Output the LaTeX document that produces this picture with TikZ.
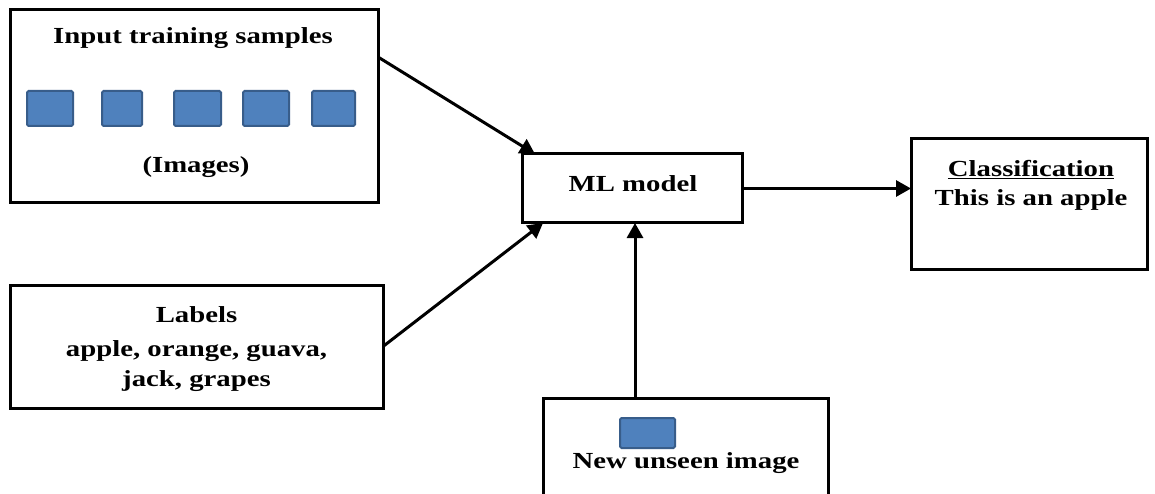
\documentclass[tikz,border=0pt]{standalone}
\usepackage{fontspec}
\setmainfont{Liberation Serif}[FakeStretch=1.25]
\usetikzlibrary{arrows.meta}
\definecolor{imgfill}{HTML}{4F81BD}
\definecolor{imgedge}{HTML}{385D8A}
\tikzset{
  box/.style={draw=black, line width=3pt, fill=white, inner sep=0pt, outer sep=0pt},
  txt/.style={font=\fontsize{23}{27}\selectfont\bfseries, inner sep=0pt, anchor=base},
  thumb/.style={draw=imgedge, line width=2pt, fill=imgfill, rounded corners=1.5pt},
  arr/.style={line width=3pt, -{Triangle[length=15pt,width=16pt]}},
}
\begin{document}
\begin{tikzpicture}[x=1pt,y=-1pt]
\useasboundingbox (0,0) rectangle (1155,494);
\clip (0,0) rectangle (1155,494);
\fill[white] (0,0) rectangle (1155,494);

% boxes
\node[box, minimum width=368pt, minimum height=193pt] (train) at (194,106.5) {};
\node[box, minimum width=220pt, minimum height=69pt] (ml) at (632,188.5) {};
\node[box, minimum width=236pt, minimum height=130pt] (cls) at (1029,204) {};
\node[box, minimum width=373pt, minimum height=123pt] (labels) at (196.5,346.5) {};
\node[box, minimum width=285pt, minimum height=122pt] (new) at (685.5,459) {};

% training image thumbnails
\draw[thumb] (27,91) rectangle (73,126);
\draw[thumb] (102,91) rectangle (142,126);
\draw[thumb] (174,91) rectangle (221,126);
\draw[thumb] (243,91) rectangle (289,126);
\draw[thumb] (312,91) rectangle (355,126);
% unseen image thumbnail
\draw[thumb] (620,418) rectangle (675,448);

% texts (placed by baseline)
\node[txt] (traintitle) at (193,44) {Input training samples};
\node[txt] (trainsub) at (196,173) {(Images)};
\node[txt] (mltext) at (633,192) {ML model};
\node[txt] (clstitle) at (1031,177) {\underline{Classification}};
\node[txt] (clstext) at (1031,206) {This is an apple};
\node[txt] (lab1) at (196.5,322) {Labels};
\node[txt] (lab2) at (196.5,356) {apple, orange, guava,};
\node[txt] (lab3) at (196.5,386) {jack, grapes};
\node[txt] (newtext) at (686,468) {New unseen image};

% connectors
\draw[arr] ([yshift=-47pt]train.north east) -- ([xshift=13pt]ml.north west);
\draw[arr] (labels.east) -- ([xshift=21pt]ml.south west);
\draw[arr] ([xshift=92pt]new.north west) -- ([xshift=113pt]ml.south west);
\draw[arr] (ml.east) -- (ml.east -| cls.west);
\end{tikzpicture}
\end{document}
